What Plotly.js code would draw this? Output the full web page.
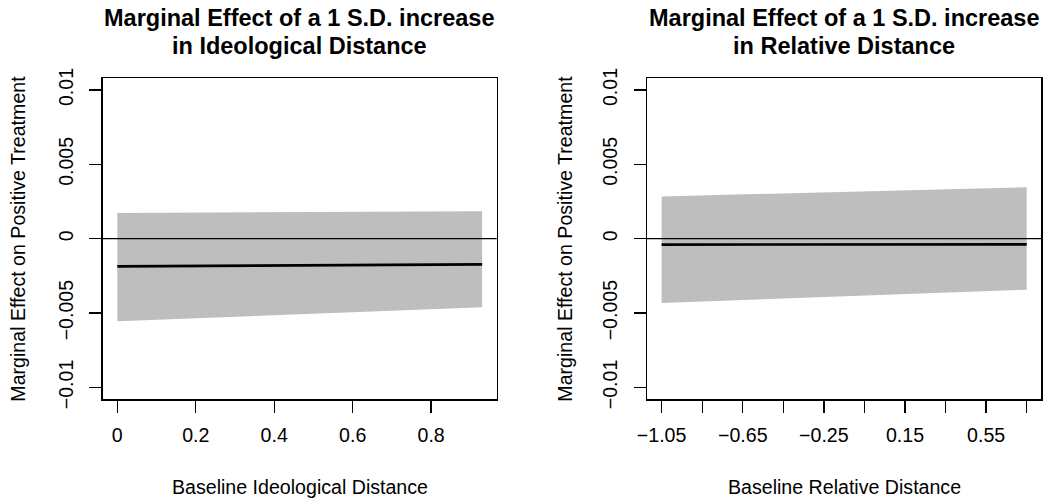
<!DOCTYPE html>
<html>
<head>
<meta charset="utf-8">
<script src="https://cdn.plot.ly/plotly-3.0.1.min.js"></script>
<style>
  html, body { margin: 0; padding: 0; background: #fff; }
  #chart { width: 1043px; height: 501px; }
</style>
</head>
<body>
<div id="chart"></div>
<script>
// Marginal effect of a 1 S.D. increase, with 95% band, over the baseline distance
const ideoX     = [0, 0.93];
const ideoEff   = [-0.00186, -0.00173];
const ideoUpper = [0.00173, 0.00184];
const ideoLower = [-0.00556, -0.00462];

const relX     = [-1.05, 0.75];
const relEff   = [-0.00040, -0.00038];
const relUpper = [0.00284, 0.00345];
const relLower = [-0.00432, -0.00343];

const yTickVals = [-0.01, -0.005, 0, 0.005, 0.01];
const yTickText = ['\u22120.01', '\u22120.005', '0', '0.005', '0.01'];
const ideoTickVals = [0, 0.2, 0.4, 0.6, 0.8];
const ideoTickText = ['0', '0.2', '0.4', '0.6', '0.8'];
const relTickVals = [-1.05, -0.85, -0.65, -0.45, -0.25, -0.05, 0.15, 0.35, 0.55, 0.75];
const relTickText = ['\u22121.05', '', '\u22120.65', '', '\u22120.25', '', '0.15', '', '0.55', ''];

const FONT = 'Liberation Sans, Arial, Helvetica, sans-serif';
const BAND = '#BEBEBE';

function band(x, lo, hi, xa, ya) {
  // closed polygon: upper edge left→right, lower edge right→left
  const xs = x.concat(x.slice().reverse());
  const ys = hi.concat(lo.slice().reverse());
  return {
    x: xs, y: ys, xaxis: xa, yaxis: ya, type: 'scatter', mode: 'lines',
    fill: 'toself', fillcolor: BAND, line: {width: 0, color: BAND},
    hoverinfo: 'skip', showlegend: false
  };
}
function effLine(x, y, xa, ya) {
  return {
    x: x, y: y, xaxis: xa, yaxis: ya, type: 'scatter', mode: 'lines',
    line: {color: '#000', width: 2.7}, showlegend: false
  };
}

const traces = [
  band(ideoX, ideoLower, ideoUpper, 'x', 'y'),
  effLine(ideoX, ideoEff, 'x', 'y'),
  band(relX, relLower, relUpper, 'x2', 'y2'),
  effLine(relX, relEff, 'x2', 'y2')
];

const W = 1043, H = 501;
const dom1 = [102.7 / W, 496.7 / W];
const dom2 = [647.0 / W, 1041.3 / W];
const ydom = [1 - 399.3 / H, 1 - 78 / H];

function xAxis(domain, range, vals, text, anchor) {
  return {
    domain: domain, range: range, anchor: anchor,
    tickmode: 'array', tickvals: vals, ticktext: text,
    ticks: 'outside', ticklen: 12, tickwidth: 1.3, tickcolor: '#000',
    showline: true, mirror: true, linecolor: '#000', linewidth: 1.3,
    showgrid: false, zeroline: false, ticklabelstandoff: 6,
    tickfont: {family: FONT, size: 19.6, color: '#000'}
  };
}
function yAxis(anchor) {
  return {
    domain: ydom, range: [-0.0108, 0.0108], anchor: anchor,
    tickmode: 'array', tickvals: yTickVals, ticktext: yTickText, tickangle: -90,
    ticks: 'outside', ticklen: 12, tickwidth: 1.3, tickcolor: '#000',
    showline: true, mirror: true, linecolor: '#000', linewidth: 1.3,
    showgrid: false, zeroline: false, ticklabelstandoff: 9,
    tickfont: {family: FONT, size: 19.6, color: '#000'}
  };
}

function ann(text, x, y, opts) {
  return Object.assign({
    text: text, x: x, y: y, xref: 'paper', yref: 'paper',
    xanchor: 'center', yanchor: 'middle', showarrow: false,
    font: {family: FONT, size: 19.6, color: '#000'}
  }, opts || {});
}
const c1 = (dom1[0] + dom1[1]) / 2, c2 = (dom2[0] + dom2[1]) / 2;
const yc = (ydom[0] + ydom[1]) / 2;
const bold = {family: FONT, size: 23.5, color: '#000'};

const layout = {
  width: W, height: H, margin: {l: 0, r: 0, t: 0, b: 0},
  paper_bgcolor: '#fff', plot_bgcolor: '#fff', showlegend: false,
  xaxis: xAxis(dom1, [-0.0372, 0.9672], ideoTickVals, ideoTickText, 'y'),
  yaxis: yAxis('x'),
  xaxis2: xAxis(dom2, [-1.122, 0.822], relTickVals, relTickText, 'y2'),
  yaxis2: yAxis('x2'),
  shapes: [
    {type: 'line', xref: 'x domain', yref: 'y', x0: 0, x1: 1, y0: 0, y1: 0,
     line: {color: '#000', width: 1.3}},
    {type: 'line', xref: 'x2 domain', yref: 'y2', x0: 0, x1: 1, y0: 0, y1: 0,
     line: {color: '#000', width: 1.3}}
  ],
  annotations: [
    ann('<b>Marginal Effect of a 1 S.D. increase</b>', c1, 1 - 18 / H, {font: bold}),
    ann('<b>in Ideological Distance</b>', c1, 1 - 46 / H, {font: bold}),
    ann('<b>Marginal Effect of a 1 S.D. increase</b>', c2, 1 - 18 / H, {font: bold}),
    ann('<b>in Relative Distance</b>', c2, 1 - 46 / H, {font: bold}),
    ann('Baseline Ideological Distance', c1, 1 - 487 / H),
    ann('Baseline Relative Distance', c2, 1 - 487 / H),
    ann('Marginal Effect on Positive Treatment', 18 / W, yc, {textangle: -90}),
    ann('Marginal Effect on Positive Treatment', 565 / W, yc, {textangle: -90})
  ]
};

Plotly.newPlot('chart', traces, layout, {staticPlot: true, displayModeBar: false});
</script>
</body>
</html>
